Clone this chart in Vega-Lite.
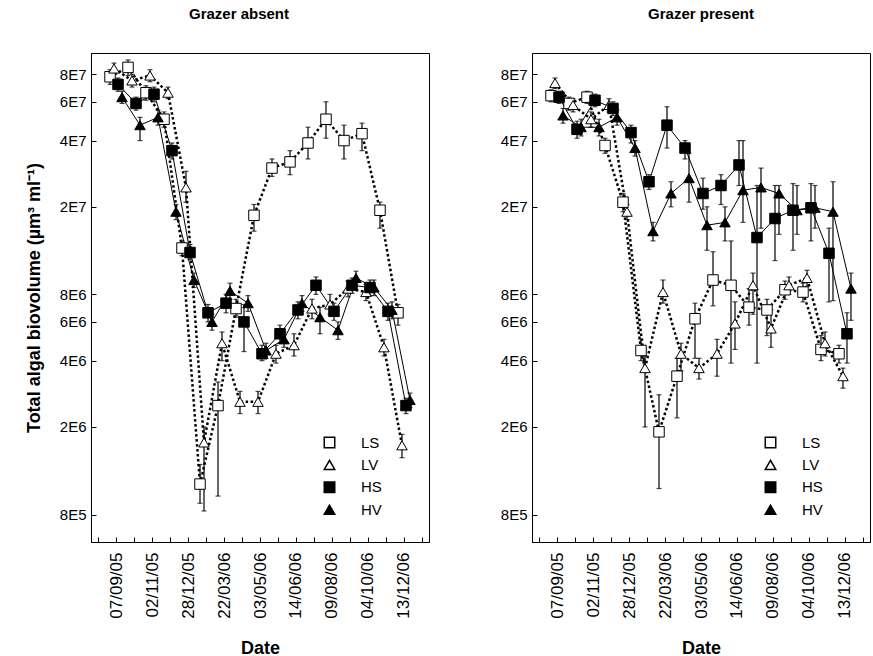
{
  "$schema": "https://vega.github.io/schema/vega-lite/v6.json",
  "padding": {"left": 24, "top": 6, "right": 0, "bottom": 0},
  "config": {
    "font": "Liberation Sans",
    "view": {"stroke": "black", "strokeWidth": 1},
    "axis": {"grid": false, "domainColor": "black", "tickColor": "black", "labelColor": "black", "titleColor": "black"},
    "concat": {"spacing": 68}
  },
  "datasets": {
    "d": [
      {"p":"absent","g":"LS","d":"07/09/05","v":7.8e7,"lo":7.2e7,"hi":8.4e7},
      {"p":"absent","g":"LS","d":"05/10/05","v":8.6e7,"lo":7.9e7,"hi":9.3e7},
      {"p":"absent","g":"LS","d":"02/11/05","v":6.6e7,"lo":6.1e7,"hi":7.1e7},
      {"p":"absent","g":"LS","d":"30/11/05","v":5.0e7,"lo":4.6e7,"hi":5.4e7},
      {"p":"absent","g":"LS","d":"28/12/05","v":1.3e7,"lo":1.2e7,"hi":1.4e7},
      {"p":"absent","g":"LS","d":"08/02/06","v":1.1e6,"lo":9.0e5,"hi":1.35e6},
      {"p":"absent","g":"LS","d":"22/03/06","v":2.5e6,"lo":9.7e5,"hi":3.2e6},
      {"p":"absent","g":"LS","d":"12/04/06","v":6.9e6,"lo":6.3e6,"hi":7.6e6},
      {"p":"absent","g":"LS","d":"03/05/06","v":1.83e7,"lo":1.55e7,"hi":2.05e7},
      {"p":"absent","g":"LS","d":"24/05/06","v":3.0e7,"lo":2.75e7,"hi":3.3e7},
      {"p":"absent","g":"LS","d":"14/06/06","v":3.2e7,"lo":2.8e7,"hi":3.6e7},
      {"p":"absent","g":"LS","d":"12/07/06","v":3.9e7,"lo":3.3e7,"hi":4.6e7},
      {"p":"absent","g":"LS","d":"09/08/06","v":5.0e7,"lo":4.1e7,"hi":6.0e7},
      {"p":"absent","g":"LS","d":"06/09/06","v":4.0e7,"lo":3.3e7,"hi":4.7e7},
      {"p":"absent","g":"LS","d":"04/10/06","v":4.3e7,"lo":3.6e7,"hi":4.8e7},
      {"p":"absent","g":"LS","d":"08/11/06","v":1.93e7,"lo":1.6e7,"hi":2.1e7},
      {"p":"absent","g":"LS","d":"13/12/06","v":6.6e6,"lo":5.8e6,"hi":7.2e6},
      {"p":"absent","g":"LV","d":"07/09/05","v":8.5e7,"lo":8.0e7,"hi":9.0e7},
      {"p":"absent","g":"LV","d":"05/10/05","v":7.5e7,"lo":7.0e7,"hi":8.0e7},
      {"p":"absent","g":"LV","d":"02/11/05","v":7.9e7,"lo":7.4e7,"hi":8.4e7},
      {"p":"absent","g":"LV","d":"30/11/05","v":6.6e7,"lo":6.2e7,"hi":7.0e7},
      {"p":"absent","g":"LV","d":"28/12/05","v":2.45e7,"lo":2.1e7,"hi":2.9e7},
      {"p":"absent","g":"LV","d":"08/02/06","v":1.7e6,"lo":8.3e5,"hi":2.0e6},
      {"p":"absent","g":"LV","d":"22/03/06","v":4.8e6,"lo":4.0e6,"hi":5.4e6},
      {"p":"absent","g":"LV","d":"12/04/06","v":2.6e6,"lo":2.3e6,"hi":2.9e6},
      {"p":"absent","g":"LV","d":"03/05/06","v":2.6e6,"lo":2.3e6,"hi":2.9e6},
      {"p":"absent","g":"LV","d":"24/05/06","v":4.3e6,"lo":3.9e6,"hi":4.7e6},
      {"p":"absent","g":"LV","d":"14/06/06","v":4.7e6,"lo":4.2e6,"hi":5.3e6},
      {"p":"absent","g":"LV","d":"12/07/06","v":6.9e6,"lo":6.2e6,"hi":7.6e6},
      {"p":"absent","g":"LV","d":"09/08/06","v":7.2e6,"lo":6.5e6,"hi":8.0e6},
      {"p":"absent","g":"LV","d":"06/09/06","v":8.5e6,"lo":7.8e6,"hi":9.2e6},
      {"p":"absent","g":"LV","d":"04/10/06","v":8.2e6,"lo":7.5e6,"hi":8.9e6},
      {"p":"absent","g":"LV","d":"08/11/06","v":4.6e6,"lo":4.2e6,"hi":5.0e6},
      {"p":"absent","g":"LV","d":"13/12/06","v":1.65e6,"lo":1.45e6,"hi":1.85e6},
      {"p":"absent","g":"HS","d":"07/09/05","v":7.2e7,"lo":6.7e7,"hi":7.7e7},
      {"p":"absent","g":"HS","d":"05/10/05","v":5.9e7,"lo":5.5e7,"hi":6.3e7},
      {"p":"absent","g":"HS","d":"02/11/05","v":6.5e7,"lo":6.0e7,"hi":7.0e7},
      {"p":"absent","g":"HS","d":"30/11/05","v":3.6e7,"lo":3.3e7,"hi":3.9e7},
      {"p":"absent","g":"HS","d":"28/12/05","v":1.24e7,"lo":1.15e7,"hi":1.35e7},
      {"p":"absent","g":"HS","d":"08/02/06","v":6.6e6,"lo":6.0e6,"hi":7.2e6},
      {"p":"absent","g":"HS","d":"22/03/06","v":7.3e6,"lo":6.6e6,"hi":8.0e6},
      {"p":"absent","g":"HS","d":"12/04/06","v":6.0e6,"lo":4.4e6,"hi":7.2e6},
      {"p":"absent","g":"HS","d":"03/05/06","v":4.3e6,"lo":4.0e6,"hi":4.7e6},
      {"p":"absent","g":"HS","d":"24/05/06","v":5.3e6,"lo":4.8e6,"hi":5.8e6},
      {"p":"absent","g":"HS","d":"14/06/06","v":6.8e6,"lo":6.2e6,"hi":7.4e6},
      {"p":"absent","g":"HS","d":"12/07/06","v":8.8e6,"lo":8.0e6,"hi":9.6e6},
      {"p":"absent","g":"HS","d":"09/08/06","v":6.7e6,"lo":6.1e6,"hi":7.3e6},
      {"p":"absent","g":"HS","d":"06/09/06","v":8.8e6,"lo":8.1e6,"hi":9.5e6},
      {"p":"absent","g":"HS","d":"04/10/06","v":8.6e6,"lo":7.9e6,"hi":9.3e6},
      {"p":"absent","g":"HS","d":"08/11/06","v":6.7e6,"lo":6.1e6,"hi":7.3e6},
      {"p":"absent","g":"HS","d":"13/12/06","v":2.5e6,"lo":2.3e6,"hi":2.7e6},
      {"p":"absent","g":"HV","d":"07/09/05","v":6.3e7,"lo":5.9e7,"hi":6.7e7},
      {"p":"absent","g":"HV","d":"05/10/05","v":4.7e7,"lo":4.0e7,"hi":5.1e7},
      {"p":"absent","g":"HV","d":"02/11/05","v":5.1e7,"lo":4.7e7,"hi":5.5e7},
      {"p":"absent","g":"HV","d":"30/11/05","v":1.9e7,"lo":1.75e7,"hi":2.05e7},
      {"p":"absent","g":"HV","d":"28/12/05","v":9.3e6,"lo":8.6e6,"hi":1.0e7},
      {"p":"absent","g":"HV","d":"08/02/06","v":6.0e6,"lo":5.5e6,"hi":6.5e6},
      {"p":"absent","g":"HV","d":"22/03/06","v":8.3e6,"lo":7.6e6,"hi":9.0e6},
      {"p":"absent","g":"HV","d":"12/04/06","v":7.3e6,"lo":6.7e6,"hi":7.9e6},
      {"p":"absent","g":"HV","d":"03/05/06","v":4.45e6,"lo":4.1e6,"hi":4.8e6},
      {"p":"absent","g":"HV","d":"24/05/06","v":5.0e6,"lo":4.6e6,"hi":5.4e6},
      {"p":"absent","g":"HV","d":"14/06/06","v":7.3e6,"lo":6.7e6,"hi":7.9e6},
      {"p":"absent","g":"HV","d":"12/07/06","v":6.3e6,"lo":5.3e6,"hi":7.0e6},
      {"p":"absent","g":"HV","d":"09/08/06","v":5.5e6,"lo":5.0e6,"hi":6.0e6},
      {"p":"absent","g":"HV","d":"06/09/06","v":9.5e6,"lo":8.8e6,"hi":1.02e7},
      {"p":"absent","g":"HV","d":"04/10/06","v":8.6e6,"lo":7.9e6,"hi":9.3e6},
      {"p":"absent","g":"HV","d":"08/11/06","v":6.8e6,"lo":6.2e6,"hi":7.4e6},
      {"p":"absent","g":"HV","d":"13/12/06","v":2.65e6,"lo":2.45e6,"hi":2.85e6},
      {"p":"present","g":"LS","d":"07/09/05","v":6.4e7,"lo":6.0e7,"hi":6.8e7},
      {"p":"present","g":"LS","d":"05/10/05","v":5.9e7,"lo":5.5e7,"hi":6.3e7},
      {"p":"present","g":"LS","d":"02/11/05","v":6.3e7,"lo":5.9e7,"hi":6.7e7},
      {"p":"present","g":"LS","d":"30/11/05","v":3.8e7,"lo":3.5e7,"hi":4.1e7},
      {"p":"present","g":"LS","d":"28/12/05","v":2.1e7,"lo":1.9e7,"hi":2.3e7},
      {"p":"present","g":"LS","d":"08/02/06","v":4.45e6,"lo":4.0e6,"hi":5.0e6},
      {"p":"present","g":"LS","d":"22/03/06","v":1.9e6,"lo":1.05e6,"hi":2.8e6},
      {"p":"present","g":"LS","d":"12/04/06","v":3.4e6,"lo":2.2e6,"hi":4.1e6},
      {"p":"present","g":"LS","d":"03/05/06","v":6.2e6,"lo":4.1e6,"hi":7.3e6},
      {"p":"present","g":"LS","d":"24/05/06","v":9.3e6,"lo":7.1e6,"hi":1.25e7},
      {"p":"present","g":"LS","d":"14/06/06","v":8.8e6,"lo":3.9e6,"hi":1.4e7},
      {"p":"present","g":"LS","d":"12/07/06","v":7.0e6,"lo":5.8e6,"hi":8.5e6},
      {"p":"present","g":"LS","d":"09/08/06","v":6.8e6,"lo":5.2e6,"hi":7.6e6},
      {"p":"present","g":"LS","d":"06/09/06","v":8.4e6,"lo":7.6e6,"hi":9.2e6},
      {"p":"present","g":"LS","d":"04/10/06","v":8.2e6,"lo":7.4e6,"hi":9.0e6},
      {"p":"present","g":"LS","d":"08/11/06","v":4.5e6,"lo":4.0e6,"hi":5.2e6},
      {"p":"present","g":"LS","d":"13/12/06","v":4.3e6,"lo":3.9e6,"hi":4.7e6},
      {"p":"present","g":"LV","d":"07/09/05","v":7.3e7,"lo":6.9e7,"hi":7.7e7},
      {"p":"present","g":"LV","d":"05/10/05","v":5.8e7,"lo":5.4e7,"hi":6.2e7},
      {"p":"present","g":"LV","d":"02/11/05","v":5.0e7,"lo":4.6e7,"hi":5.4e7},
      {"p":"present","g":"LV","d":"30/11/05","v":5.8e7,"lo":5.4e7,"hi":6.2e7},
      {"p":"present","g":"LV","d":"28/12/05","v":1.9e7,"lo":1.75e7,"hi":2.05e7},
      {"p":"present","g":"LV","d":"08/02/06","v":3.7e6,"lo":2.0e6,"hi":4.2e6},
      {"p":"present","g":"LV","d":"22/03/06","v":8.2e6,"lo":7.3e6,"hi":9.3e6},
      {"p":"present","g":"LV","d":"12/04/06","v":4.3e6,"lo":3.6e6,"hi":4.8e6},
      {"p":"present","g":"LV","d":"03/05/06","v":3.7e6,"lo":3.3e6,"hi":4.1e6},
      {"p":"present","g":"LV","d":"24/05/06","v":4.3e6,"lo":3.4e6,"hi":5.0e6},
      {"p":"present","g":"LV","d":"14/06/06","v":5.9e6,"lo":4.5e6,"hi":7.4e6},
      {"p":"present","g":"LV","d":"12/07/06","v":8.8e6,"lo":6.5e6,"hi":1.0e7},
      {"p":"present","g":"LV","d":"09/08/06","v":5.6e6,"lo":4.6e6,"hi":6.8e6},
      {"p":"present","g":"LV","d":"06/09/06","v":8.8e6,"lo":8.0e6,"hi":9.6e6},
      {"p":"present","g":"LV","d":"04/10/06","v":9.5e6,"lo":8.7e6,"hi":1.03e7},
      {"p":"present","g":"LV","d":"08/11/06","v":4.8e6,"lo":4.2e6,"hi":5.4e6},
      {"p":"present","g":"LV","d":"13/12/06","v":3.4e6,"lo":3.0e6,"hi":3.7e6},
      {"p":"present","g":"HS","d":"07/09/05","v":6.3e7,"lo":5.9e7,"hi":6.7e7},
      {"p":"present","g":"HS","d":"05/10/05","v":4.5e7,"lo":4.1e7,"hi":4.9e7},
      {"p":"present","g":"HS","d":"02/11/05","v":6.1e7,"lo":5.7e7,"hi":6.5e7},
      {"p":"present","g":"HS","d":"30/11/05","v":5.6e7,"lo":5.2e7,"hi":6.0e7},
      {"p":"present","g":"HS","d":"28/12/05","v":4.35e7,"lo":3.9e7,"hi":4.7e7},
      {"p":"present","g":"HS","d":"08/02/06","v":2.6e7,"lo":2.4e7,"hi":2.8e7},
      {"p":"present","g":"HS","d":"22/03/06","v":4.7e7,"lo":3.7e7,"hi":5.7e7},
      {"p":"present","g":"HS","d":"12/04/06","v":3.7e7,"lo":3.3e7,"hi":4.0e7},
      {"p":"present","g":"HS","d":"03/05/06","v":2.3e7,"lo":1.95e7,"hi":2.7e7},
      {"p":"present","g":"HS","d":"24/05/06","v":2.5e7,"lo":2.05e7,"hi":2.8e7},
      {"p":"present","g":"HS","d":"14/06/06","v":3.1e7,"lo":2.5e7,"hi":4.0e7},
      {"p":"present","g":"HS","d":"12/07/06","v":1.45e7,"lo":3.9e6,"hi":2.5e7},
      {"p":"present","g":"HS","d":"09/08/06","v":1.77e7,"lo":1.14e7,"hi":2.5e7},
      {"p":"present","g":"HS","d":"06/09/06","v":1.93e7,"lo":1.27e7,"hi":2.55e7},
      {"p":"present","g":"HS","d":"04/10/06","v":1.98e7,"lo":1.4e7,"hi":2.55e7},
      {"p":"present","g":"HS","d":"08/11/06","v":1.23e7,"lo":7.4e6,"hi":1.6e7},
      {"p":"present","g":"HS","d":"13/12/06","v":5.3e6,"lo":3.9e6,"hi":6.6e6},
      {"p":"present","g":"HV","d":"07/09/05","v":5.2e7,"lo":4.8e7,"hi":5.6e7},
      {"p":"present","g":"HV","d":"05/10/05","v":4.6e7,"lo":4.2e7,"hi":5.0e7},
      {"p":"present","g":"HV","d":"02/11/05","v":4.6e7,"lo":4.2e7,"hi":5.0e7},
      {"p":"present","g":"HV","d":"30/11/05","v":5.1e7,"lo":4.7e7,"hi":5.5e7},
      {"p":"present","g":"HV","d":"28/12/05","v":3.7e7,"lo":3.4e7,"hi":4.0e7},
      {"p":"present","g":"HV","d":"08/02/06","v":1.55e7,"lo":1.4e7,"hi":1.7e7},
      {"p":"present","g":"HV","d":"22/03/06","v":2.3e7,"lo":2.0e7,"hi":2.6e7},
      {"p":"present","g":"HV","d":"12/04/06","v":2.7e7,"lo":2.1e7,"hi":3.5e7},
      {"p":"present","g":"HV","d":"03/05/06","v":1.65e7,"lo":1.27e7,"hi":2.0e7},
      {"p":"present","g":"HV","d":"24/05/06","v":1.7e7,"lo":1.4e7,"hi":2.0e7},
      {"p":"present","g":"HV","d":"14/06/06","v":2.38e7,"lo":1.7e7,"hi":4.0e7},
      {"p":"present","g":"HV","d":"12/07/06","v":2.45e7,"lo":1.6e7,"hi":3.0e7},
      {"p":"present","g":"HV","d":"09/08/06","v":2.3e7,"lo":1.5e7,"hi":2.5e7},
      {"p":"present","g":"HV","d":"06/09/06","v":1.93e7,"lo":1.5e7,"hi":2.5e7},
      {"p":"present","g":"HV","d":"04/10/06","v":1.98e7,"lo":1.6e7,"hi":2.5e7},
      {"p":"present","g":"HV","d":"08/11/06","v":1.9e7,"lo":7.5e6,"hi":2.6e7},
      {"p":"present","g":"HV","d":"13/12/06","v":8.5e6,"lo":6.1e6,"hi":1.0e7}
    ]
  },
  "resolve": {
    "scale": {"shape": "independent", "fill": "independent"},
    "legend": {"shape": "independent", "fill": "independent"}
  },
  "hconcat": [
    {
      "width": 338,
      "height": 489,
      "title": {"text": "Grazer absent", "fontSize": 15, "fontWeight": "bold", "offset": 31, "dx": -21, "color": "black"},
      "data": {"name": "d"},
      "transform": [{"filter": "datum.p == 'absent'"}],
      "encoding": {
        "x": {
          "field": "d", "type": "ordinal",
          "scale": {"type": "point", "padding": 0.39, "domain": ["", "07/09/05", "05/10/05", "02/11/05", "30/11/05", "28/12/05", "08/02/06", "22/03/06", "12/04/06", "03/05/06", "24/05/06", "14/06/06", "12/07/06", "09/08/06", "06/09/06", "04/10/06", "08/11/06", "13/12/06", " "]},
          "axis": {"title": "Date", "labelAngle": -90, "tickSize": -5, "labelPadding": 15, "labelFontSize": 17, "labelOverlap": false, "labelExpr": "round(datum.index*18)%2==1 ? datum.label : ''", "titleFontSize": 18, "titleFontWeight": "bold", "titlePadding": 21}
        },
        "xOffset": {"field": "g", "type": "nominal", "scale": {"type": "point", "padding": 0, "domain": ["LS", "LV", "HS", "HV"], "range": [-6, 6]}},
        "y": {"field": "v", "type": "quantitative", "title": "Total algal biovolume (µm³ ml⁻¹)", "scale": {"type": "log", "domain": [6e5, 1e8], "nice": false},
              "axis": {"values": [8e5, 2e6, 4e6, 6e6, 8e6, 2e7, 4e7, 6e7, 8e7], "labelExpr": "replace(format(datum.value,'.0e'),'e+','E')", "tickSize": -5, "labelPadding": 10, "labelFontSize": 15, "titleFontSize": 18, "titleFontWeight": "bold", "titlePadding": 16}}
      },
      "layer": [
        {
          "mark": {"type": "rule", "color": "black", "strokeWidth": 1.2},
          "encoding": {"y": {"field": "lo", "type": "quantitative", "title": "Total algal biovolume (µm³ ml⁻¹)"}, "y2": {"field": "hi"}}
        },
        {
          "mark": {"type": "tick", "color": "black", "size": 5, "thickness": 1.2},
          "encoding": {"y": {"field": "lo", "type": "quantitative", "title": "Total algal biovolume (µm³ ml⁻¹)"}}
        },
        {
          "mark": {"type": "tick", "color": "black", "size": 5, "thickness": 1.2},
          "encoding": {"y": {"field": "hi", "type": "quantitative", "title": "Total algal biovolume (µm³ ml⁻¹)"}}
        },
        {
          "transform": [{"filter": "datum.g == 'LS' || datum.g == 'LV'"}],
          "mark": {"type": "line", "color": "black", "strokeWidth": 2.5, "strokeDash": [2.5, 2.5]},
          "encoding": {"detail": {"field": "g"}}
        },
        {
          "transform": [{"filter": "datum.g == 'HS' || datum.g == 'HV'"}],
          "mark": {"type": "line", "color": "black", "strokeWidth": 1},
          "encoding": {"detail": {"field": "g"}}
        },
        {
          "mark": {"type": "point", "stroke": "black", "strokeWidth": 1, "size": 110, "opacity": 1, "fillOpacity": 1},
          "encoding": {
            "shape": {"field": "g", "type": "nominal", "scale": {"domain": ["LS", "LV", "HS", "HV"], "range": ["square", "triangle-up", "square", "triangle-up"]},
                      "legend": {"title": null, "orient": "none", "legendX": 231, "legendY": 382, "labelFontSize": 15, "labelColor": "black", "symbolSize": 110, "rowPadding": 5.4, "labelOffset": 24,
                                 "encode": {"symbols": {"update": {"stroke": {"value": "black"}, "strokeWidth": {"value": 1}, "opacity": {"value": 1}}}}}},
            "fill": {"field": "g", "type": "nominal", "scale": {"domain": ["LS", "LV", "HS", "HV"], "range": ["white", "white", "black", "black"]},
                      "legend": {"title": null, "orient": "none", "legendX": 231, "legendY": 382, "labelFontSize": 15, "labelColor": "black", "symbolSize": 110, "rowPadding": 5.4, "labelOffset": 24,
                                 "encode": {"symbols": {"update": {"stroke": {"value": "black"}, "strokeWidth": {"value": 1}, "opacity": {"value": 1}}}}}}
          }
        }
      ]
    },
    {
      "width": 338,
      "height": 489,
      "title": {"text": "Grazer present", "fontSize": 15, "fontWeight": "bold", "offset": 31, "color": "black"},
      "data": {"name": "d"},
      "transform": [{"filter": "datum.p == 'present'"}],
      "encoding": {
        "x": {
          "field": "d", "type": "ordinal",
          "scale": {"type": "point", "padding": 0.39, "domain": ["", "07/09/05", "05/10/05", "02/11/05", "30/11/05", "28/12/05", "08/02/06", "22/03/06", "12/04/06", "03/05/06", "24/05/06", "14/06/06", "12/07/06", "09/08/06", "06/09/06", "04/10/06", "08/11/06", "13/12/06", " "]},
          "axis": {"title": "Date", "labelAngle": -90, "tickSize": -5, "labelPadding": 15, "labelFontSize": 17, "labelOverlap": false, "labelExpr": "round(datum.index*18)%2==1 ? datum.label : ''", "titleFontSize": 18, "titleFontWeight": "bold", "titlePadding": 21}
        },
        "xOffset": {"field": "g", "type": "nominal", "scale": {"type": "point", "padding": 0, "domain": ["LS", "LV", "HS", "HV"], "range": [-6, 6]}},
        "y": {"field": "v", "type": "quantitative", "title": null, "scale": {"type": "log", "domain": [6e5, 1e8], "nice": false},
              "axis": {"values": [8e5, 2e6, 4e6, 6e6, 8e6, 2e7, 4e7, 6e7, 8e7], "labelExpr": "replace(format(datum.value,'.0e'),'e+','E')", "tickSize": -5, "labelPadding": 10, "labelFontSize": 15}}
      },
      "layer": [
        {
          "mark": {"type": "rule", "color": "black", "strokeWidth": 1.2},
          "encoding": {"y": {"field": "lo", "type": "quantitative", "title": null}, "y2": {"field": "hi"}}
        },
        {
          "mark": {"type": "tick", "color": "black", "size": 5, "thickness": 1.2},
          "encoding": {"y": {"field": "lo", "type": "quantitative", "title": null}}
        },
        {
          "mark": {"type": "tick", "color": "black", "size": 5, "thickness": 1.2},
          "encoding": {"y": {"field": "hi", "type": "quantitative", "title": null}}
        },
        {
          "transform": [{"filter": "datum.g == 'LS' || datum.g == 'LV'"}],
          "mark": {"type": "line", "color": "black", "strokeWidth": 2.5, "strokeDash": [2.5, 2.5]},
          "encoding": {"detail": {"field": "g"}}
        },
        {
          "transform": [{"filter": "datum.g == 'HS' || datum.g == 'HV'"}],
          "mark": {"type": "line", "color": "black", "strokeWidth": 1},
          "encoding": {"detail": {"field": "g"}}
        },
        {
          "mark": {"type": "point", "stroke": "black", "strokeWidth": 1, "size": 110, "opacity": 1, "fillOpacity": 1},
          "encoding": {
            "shape": {"field": "g", "type": "nominal", "scale": {"domain": ["LS", "LV", "HS", "HV"], "range": ["square", "triangle-up", "square", "triangle-up"]},
                      "legend": {"title": null, "orient": "none", "legendX": 231, "legendY": 382, "labelFontSize": 15, "labelColor": "black", "symbolSize": 110, "rowPadding": 5.4, "labelOffset": 24,
                                 "encode": {"symbols": {"update": {"stroke": {"value": "black"}, "strokeWidth": {"value": 1}, "opacity": {"value": 1}}}}}},
            "fill": {"field": "g", "type": "nominal", "scale": {"domain": ["LS", "LV", "HS", "HV"], "range": ["white", "white", "black", "black"]},
                      "legend": {"title": null, "orient": "none", "legendX": 231, "legendY": 382, "labelFontSize": 15, "labelColor": "black", "symbolSize": 110, "rowPadding": 5.4, "labelOffset": 24,
                                 "encode": {"symbols": {"update": {"stroke": {"value": "black"}, "strokeWidth": {"value": 1}, "opacity": {"value": 1}}}}}}
          }
        }
      ]
    }
  ]
}
